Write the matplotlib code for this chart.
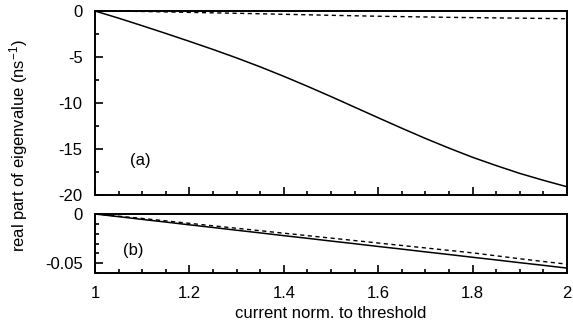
import numpy as np
import matplotlib.pyplot as plt
from matplotlib.ticker import MultipleLocator, FormatStrFormatter

plt.rcParams['font.family'] = ['Liberation Sans', 'DejaVu Sans']
plt.rcParams['font.size'] = 12
plt.rcParams['axes.unicode_minus'] = False
plt.rcParams['mathtext.default'] = 'regular'

# current normalised to threshold
current = [1.0, 1.05, 1.1, 1.15, 1.2, 1.25, 1.3, 1.35, 1.4, 1.45, 1.5,
           1.55, 1.6, 1.65, 1.7, 1.75, 1.8, 1.85, 1.9, 1.95, 2.0]

# (a) real parts of eigenvalues, ns^-1
re_a_solid = [0.0, -0.78, -1.6, -2.44, -3.3, -4.18, -5.1, -6.07, -7.1, -8.18, -9.3,
              -10.45, -11.6, -12.74, -13.85, -14.9, -15.9, -16.8, -17.65, -18.4, -19.1]
re_a_dash = [0.0, -0.02, -0.05, -0.1, -0.15, -0.2, -0.25, -0.3, -0.36, -0.41, -0.47,
             -0.52, -0.57, -0.61, -0.65, -0.69, -0.72, -0.75, -0.78, -0.81, -0.84]

# (b) real parts of eigenvalues, ns^-1
re_b_solid = [0.0, -0.0027, -0.0055, -0.0082, -0.011, -0.0137, -0.0165, -0.0192,
              -0.022, -0.0247, -0.0275, -0.0302, -0.033, -0.0357, -0.0385, -0.0412,
              -0.044, -0.0467, -0.0495, -0.0522, -0.055]
re_b_dash = [0.0, -0.0022, -0.0045, -0.007, -0.0095, -0.012, -0.0145, -0.017,
             -0.0195, -0.022, -0.0245, -0.027, -0.0295, -0.032, -0.0345, -0.037,
             -0.0395, -0.0425, -0.0455, -0.0483, -0.051]

fig = plt.figure(figsize=(5.73, 3.30), dpi=100)
ax1 = fig.add_axes([0.1658, 0.409, 0.8237, 0.5577])
ax2 = fig.add_axes([0.1658, 0.1727, 0.8237, 0.1788])

ax1.plot(current, re_a_solid, color='black', lw=1.1)
ax1.plot(current, re_a_dash, color='black', lw=1.0, dashes=(3, 2.5))
ax2.plot(current, re_b_solid, color='black', lw=1.1)
ax2.plot(current, re_b_dash, color='black', lw=1.0, dashes=(3, 2.5))

ax1.set_ylim(-20, 0)
ax2.set_ylim(-0.06, 0)
ax1.yaxis.set_major_locator(MultipleLocator(5))
ax1.yaxis.set_minor_locator(MultipleLocator(2.5))
ax2.yaxis.set_major_locator(MultipleLocator(0.05))
ax2.yaxis.set_minor_locator(MultipleLocator(0.01))
ax2.yaxis.set_major_formatter(FormatStrFormatter('%g'))

for ax in (ax1, ax2):
    ax.set_xlim(1, 2)
    ax.xaxis.set_major_locator(MultipleLocator(0.2))
    ax.xaxis.set_minor_locator(MultipleLocator(0.05))
    ax.xaxis.set_major_formatter(FormatStrFormatter('%g'))
    ax.tick_params(which='both', direction='in', top=False, right=False, width=1.2)
    ax.tick_params(which='major', length=6, pad=9)
    ax.tick_params(which='minor', length=3)
    for s in ax.spines.values():
        s.set_linewidth(1.4)

ax1.tick_params(axis='x', labelbottom=False)

ax1.text(1.075, -16.3, '(a)', fontsize=12, va='center')
ax2.text(1.06, -0.0375, '(b)', fontsize=12, va='center')

ax2.set_xlabel('current norm. to threshold', labelpad=4)
fig.text(0.032, 0.56, 'real part of eigenvalue (ns$^{-1}$)', rotation=90,
         ha='center', va='center', fontsize=12)

fig.savefig('out.png', dpi=100)
